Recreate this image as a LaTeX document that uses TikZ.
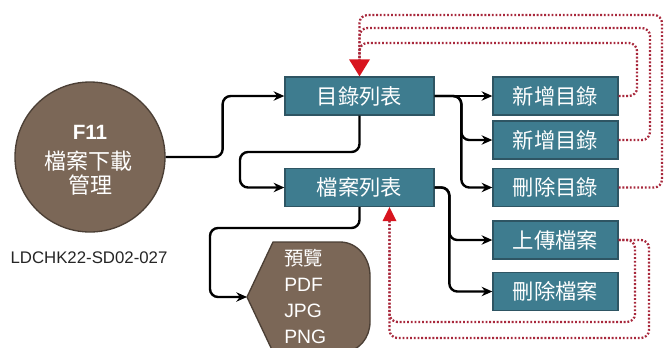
\documentclass[tikz,border=0pt]{standalone}
\usepackage{fontspec}
\setmainfont{Liberation Sans}
\newfontfamily\cjk{Noto Sans CJK TC}
\usetikzlibrary{arrows.meta,calc}
\definecolor{boxfill}{HTML}{3E7C8F}
\definecolor{boxline}{HTML}{2E5563}
\definecolor{brownfill}{HTML}{7B6757}
\definecolor{brownline}{HTML}{4B3F35}
\definecolor{dotred}{HTML}{A8283C}
\definecolor{tipred}{HTML}{D8141E}
\begin{document}
\begin{tikzpicture}[x=0.75pt,y=-0.75pt,
  bigbox/.style={draw=boxline,fill=boxfill,line width=1pt,minimum width=111.75pt,minimum height=28.5pt,inner sep=0pt,text=white,font=\cjk\fontsize{16}{18}\selectfont},
  smallbox/.style={bigbox,minimum width=93.75pt},
  conn/.style={line width=1.8pt,rounded corners=6pt,-{Stealth[length=8pt,width=7pt]}},
  reddot/.style={draw=dotred,line width=1.7pt,dash pattern=on 1.4pt off 1.4pt,rounded corners=6pt},
  wtext/.style={text=white,inner sep=0pt}]
\useasboundingbox (0,0) rectangle (664,347);
\fill[white] (0,0) rectangle (664,347);
% circle
\node[circle,draw=brownline,fill=brownfill,line width=1pt,minimum size=112.5pt,inner sep=0pt] (circ) at (90,157) {};
\node[wtext,font=\bfseries\fontsize{15.5}{18}\selectfont] (c1) at (90,132) {F11};
\node[wtext,font=\cjk\fontsize{16.5}{18}\selectfont] (c2) at (88,161) {檔案下載};
\node[wtext,font=\cjk\fontsize{16.5}{18}\selectfont] (c3) at (90,185) {管理};
\node[font=\fontsize{12.6}{14}\selectfont,text=black!85] (code) at (89,258) {LDCHK22-SD02-027};
% boxes
\node[bigbox] (mulu) at (359.5,96) {目錄列表};
\node[bigbox] (dangan) at (359.5,187.5) {檔案列表};
\node[smallbox] (r1) at (555.5,96) {新增目錄};
\node[smallbox] (r2) at (555.5,140) {新增目錄};
\node[smallbox] (r3) at (555.5,187.5) {刪除目錄};
\node[smallbox] (r4) at (555.5,240) {上傳檔案};
\node[smallbox] (r5) at (555.5,291.5) {刪除檔案};
% display shape
\coordinate (prevtip) at (247,297);
\draw[draw=brownline,fill=brownfill,line width=1pt] (prevtip) -- (273,242) -- (340,242) to[out=0,in=90] (370,276) -- (370,322) to[out=-90,in=0] (343,352) -- (273,352) -- cycle;
\node[anchor=west,align=left,wtext,font=\fontsize{14.5}{19.5}\selectfont] (prevtxt) at (284,296)
  {{\cjk 預覽}\\PDF\\JPG\\PNG};
% black connectors
\coordinate (k1) at (240,152);
\coordinate (k2) at (210,228);
\draw[conn] (circ.east) -- ++(57,0) |- (mulu.west);
\draw[conn] (mulu.south) |- (k1) |- (dangan.west);
\draw[conn] (dangan.south) |- (k2) |- (prevtip);
\draw[conn] (mulu.east) -- (r1.west);
\draw[conn] (mulu.east) -| ($(r2.west)+(-31,0)$) -- (r2.west);
\draw[conn] (mulu.east) -| ($(r3.west)+(-31,0)$) -- (r3.west);
\draw[conn] (dangan.east) -| ($(r4.west)+(-43,0)$) -- (r4.west);
\draw[conn] (dangan.east) -| ($(r5.west)+(-43,0)$) -- (r5.west);
% red dotted
\draw[reddot] (r1.east) -| (637,43) -| ($(mulu.north)+(0,-14)$);
\draw[reddot] (r2.east) -| (650,28) -| ($(mulu.north)+(0,-14)$);
\draw[reddot] (r3.east) -| (662,15) -| ($(mulu.north)+(0,-14)$);
\draw[draw=none,fill=tipred] (mulu.north) -- ++(-10.5,-17) -- ++(21,0) -- cycle;
\coordinate (dtip) at ($(dangan.south)+(30,0)$);
\draw[reddot] (r4.east) -| (635,322) -| ($(dtip)+(0,12)$);
\draw[reddot] (r4.east) -| (649,338) -| ($(dtip)+(0,12)$);
\draw[draw=none,fill=tipred] (dtip) -- ++(-7,14) -- ++(14,0) -- cycle;
\end{tikzpicture}
\end{document}
